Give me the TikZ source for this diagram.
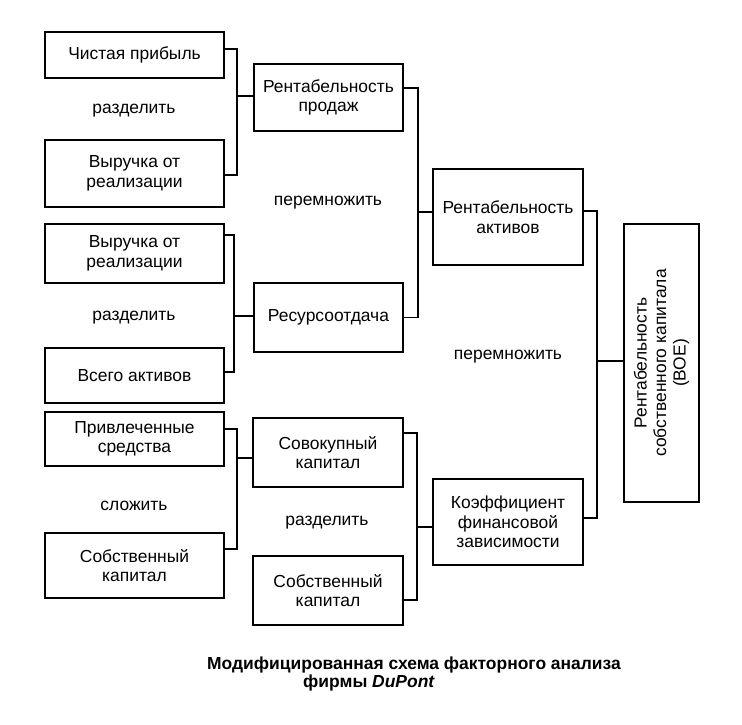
\documentclass[tikz,border=0pt]{standalone}
\usepackage{fontspec}
\setmainfont{Liberation Sans}
\usetikzlibrary{calc}
\begin{document}
\begin{tikzpicture}[x=1bp,y=-1bp,
  box/.style={draw,line width=1.6bp,align=center,inner sep=0pt,font=\fontsize{17.5}{19.5}\selectfont},
  lbl/.style={align=center,inner sep=0pt,font=\fontsize{17.5}{19.5}\selectfont},
  capt/.style={inner sep=0pt,font=\fontsize{17.5}{18}\selectfont\bfseries},
  conn/.style={line width=1.2bp}]
\useasboundingbox[fill=white] (0,0) rectangle (742,725);
% left column
\node[box,minimum width=179bp,minimum height=46bp] (b1) at (134.5,55) {Чистая прибыль};
\node[box,minimum width=179bp,minimum height=67bp] (b2) at (134.5,173.5) {Выручка от\\реализации};
\node[box,minimum width=179bp,minimum height=59bp] (b3) at (134.5,253.5) {Выручка от\\реализации};
\node[box,minimum width=179bp,minimum height=55bp] (b4) at (134.5,375.5) {Всего активов};
\node[box,minimum width=179bp,minimum height=54bp] (b5) at (134.5,439) {Привлеченные\\средства};
\node[box,minimum width=179bp,minimum height=65bp] (b6) at (134.5,565.5) {Собственный\\капитал};
\node[lbl] (l1) at (134,111) {разделить};
\node[lbl] (l2) at (134,318) {разделить};
\node[lbl] (l3) at (134,506) {сложить};
% middle column
\node[box,minimum width=149bp,minimum height=67bp] (m1) at (328.5,97.5) {Рентабельность\\продаж};
\node[box,minimum width=149bp,minimum height=69bp] (m2) at (328.5,317.5) {Ресурсоотдача};
\node[box,minimum width=150bp,minimum height=69bp] (m3) at (328,452.5) {Совокупный\\капитал};
\node[box,minimum width=150bp,minimum height=69bp] (m4) at (328,590.5) {Собственный\\капитал};
\node[lbl] (l4) at (328,203) {перемножить};
\node[lbl] (l5) at (327,523) {разделить};
% right column
\node[box,minimum width=150bp,minimum height=96bp] (r1) at (508,217) {Рентабельность\\активов};
\node[box,minimum width=150bp,minimum height=86bp] (r2) at (508,522) {Коэффициент\\финансовой\\зависимости};
\node[lbl] (l6) at (508,357) {перемножить};
\node[box,minimum width=278bp,minimum height=75bp,rotate=90] (roe) at (661.5,363) {Рентабельность\\собственного капитала\\(ВОЕ)};
% caption
\node[capt] (cap1) at (414,665) {Модифицированная схема факторного анализа};
\node[capt] (cap2) at (369,683) {фирмы \textit{DuPont}};
% junction coordinates
\coordinate (j1) at (237,0);
\coordinate (j2) at (234,0);
\coordinate (j3) at (418,0);
\coordinate (j4) at (597,0);
\coordinate (j5) at (237,0);
\coordinate (j6) at (417,0);
% connectors
\draw[conn] ($(b1.east)+(0,-6)$) -| ($(j1|-b2.east)+(0,1.5)$) -- ($(b2.east)+(0,1.5)$);
\draw[conn] ($(j1|-m1.west)+(0,-1.5)$) -- ($(m1.west)+(0,-1.5)$);
\draw[conn] ($(b3.east)+(0,-18.5)$) -| ($(j2|-b4.east)+(0,-3.5)$) -- ($(b4.east)+(0,-3.5)$);
\draw[conn] ($(j2|-m2.west)+(0,-1.5)$) -- ($(m2.west)+(0,-1.5)$);
\draw[conn] ($(m1.east)+(0,-9.5)$) -| (j3|-m2.east) -- (m2.east);
\draw[conn] ($(j3|-r1.west)+(0,-5)$) -- ($(r1.west)+(0,-5)$);
\draw[conn] ($(r1.east)+(0,-6)$) -| ($(j4|-r2.east)+(0,-4)$) -- ($(r2.east)+(0,-4)$);
\draw[conn] ($(j4|-roe.north)+(0,-2)$) -- ($(roe.north)+(0,-2)$);
\draw[conn] ($(b5.east)+(0,-10)$) -| ($(j5|-b6.east)+(0,-16.5)$) -- ($(b6.east)+(0,-16.5)$);
\draw[conn] ($(j5|-m3.west)+(0,5.5)$) -- ($(m3.west)+(0,5.5)$);
\draw[conn] ($(m3.east)+(0,-19.5)$) -| ($(j6|-m4.east)+(0,9.5)$) -- ($(m4.east)+(0,9.5)$);
\draw[conn] ($(j6|-r2.west)+(0,5)$) -- ($(r2.west)+(0,5)$);
\end{tikzpicture}
\end{document}
